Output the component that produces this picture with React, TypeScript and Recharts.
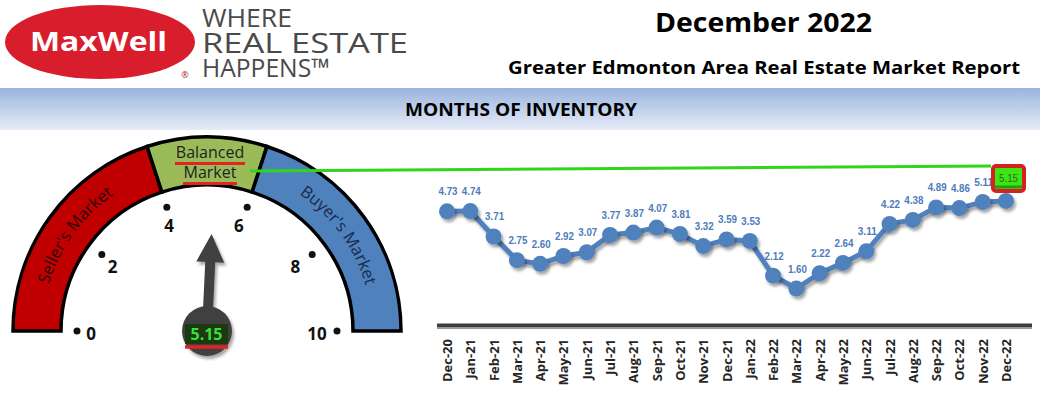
import React from 'react';
import {
  LineChart, Line, XAxis, YAxis, LabelList, ReferenceLine,
  PieChart, Pie, Cell, Customized,
} from 'recharts';

// ---------- data ----------
const months = [
  'Dec-20', 'Jan-21', 'Feb-21', 'Mar-21', 'Apr-21', 'May-21', 'Jun-21', 'Jul-21', 'Aug-21',
  'Sep-21', 'Oct-21', 'Nov-21', 'Dec-21', 'Jan-22', 'Feb-22', 'Mar-22', 'Apr-22', 'May-22',
  'Jun-22', 'Jul-22', 'Aug-22', 'Sep-22', 'Oct-22', 'Nov-22', 'Dec-22',
];
const inventory = [
  4.73, 4.74, 3.71, 2.75, 2.60, 2.92, 3.07, 3.77, 3.87, 4.07, 3.81, 3.32, 3.59,
  3.53, 2.12, 1.60, 2.22, 2.64, 3.11, 4.22, 4.38, 4.89, 4.86, 5.11, 5.15,
];
const gaugeBands = ["Seller's Market", 'Balanced Market', "Buyer's Market"];
const gaugeBandSizes = [4, 2, 4];
const gaugeBandColors = ['#C00000', '#9BBB59', '#4F81BD'];
const gaugeBandTextColors = ['#2A0505', '#222222', '#1B2A4A'];
const gaugeTicks = [0, 2, 4, 6, 8, 10];
const gaugeMax = 10;
const currentValue = 5.15;

const lineData = months.map((m, i) => ({ month: m, value: inventory[i] }));
const bandData = gaugeBands.map((name, i) => ({ name, value: gaugeBandSizes[i] }));

// ---------- gauge geometry ----------
const GCX = 207;
const GCY = 331;
const INNER = 146;
const OUTER = 194;
const RAD = Math.PI / 180;
const polar = (angleDeg: number, r: number) => [
  GCX + r * Math.cos(angleDeg * RAD),
  GCY - r * Math.sin(angleDeg * RAD),
];
const valueAngle = (v: number) => 180 - (v / gaugeMax) * 180;

const FONT = "'Open Sans', 'DejaVu Sans', sans-serif";
const LABEL_FONT = "'Liberation Sans', Arial, sans-serif";

const renderBandLabel = (props: any) => {
  const { index } = props;
  const sa = props.startAngle ?? 180;
  const ea = props.endAngle ?? 0;
  if (index === 1) {
    return (
      <g>
        <text x={GCX + 3} y={158} textAnchor="middle" fontFamily={FONT} fontSize={16} fill={gaugeBandTextColors[1]}>Balanced</text>
        <line x1={175} x2={245} y1={163.5} y2={163.5} stroke="#E02424" strokeWidth={3} />
        <text x={GCX + 3} y={178} textAnchor="middle" fontFamily={FONT} fontSize={16} fill={gaugeBandTextColors[1]}>Market</text>
        <line x1={183} x2={237} y1={183.5} y2={183.5} stroke="#E02424" strokeWidth={3} />
      </g>
    );
  }
  const a1 = Math.max(sa, ea);
  const a2 = Math.min(sa, ea);
  const r = 165;
  const [x1, y1] = polar(a1, r);
  const [x2, y2] = polar(a2, r);
  const id = `band-arc-${index}`;
  return (
    <g>
      <path id={id} d={`M ${x1} ${y1} A ${r} ${r} 0 0 1 ${x2} ${y2}`} fill="none" stroke="none" />
      <text fontFamily={FONT} fontSize={16.5} fill={gaugeBandTextColors[index]}>
        <textPath href={`#${id}`} startOffset="50%" textAnchor="middle">{gaugeBands[index]}</textPath>
      </text>
    </g>
  );
};

const GaugeDecor = () => {
  const a = valueAngle(currentValue);
  const dir = [Math.cos(a * RAD), -Math.sin(a * RAD)];
  const perp = [-dir[1], dir[0]];
  const pt = (along: number, side: number) =>
    `${GCX + dir[0] * along + perp[0] * side},${GCY + dir[1] * along + perp[1] * side}`;
  const needle = [
    pt(0, -5), pt(69, -5), pt(69, -14), pt(97, 0), pt(69, 14), pt(69, 5), pt(0, 5),
  ].join(' ');
  return (
    <g>
      {gaugeTicks.map((t) => {
        const ang = valueAngle(t);
        const [dx, dy] = polar(ang, 130);
        const [tx, ty] = polar(ang, 113);
        return (
          <g key={t}>
            <circle cx={dx} cy={dy} r={3.5} fill="#111" />
            <text x={tx - 3} y={ty + 2} textAnchor="middle" dominantBaseline="central" fontFamily={FONT} fontWeight={700} fontSize={17} fill="#111">{t}</text>
          </g>
        );
      })}
      <g filter="url(#ds)">
        <polygon points={needle} fill="#404040" />
        <circle cx={GCX} cy={GCY} r={25} fill="#404040" />
      </g>
      <rect x={GCX - 22} y={GCY - 7} width={43} height={20} fill="#1C3A0F" />
      <text x={GCX - 0.5} y={GCY + 3} textAnchor="middle" dominantBaseline="central" fontFamily={FONT} fontWeight={700} fontSize={16} fill="#3ADF3A">{currentValue.toFixed(2)}</text>
      <line x1={GCX - 22} x2={GCX + 21} y1={GCY + 16} y2={GCY + 16} stroke="#E02424" strokeWidth={3.5} />
    </g>
  );
};

const MonthTick = (props: any) => {
  const { x, y, payload } = props;
  return (
    <text
      transform={`translate(${x},${y}) rotate(-90)`}
      textAnchor="end"
      dominantBaseline="central"
      fontFamily={FONT}
      fontWeight={700}
      fontSize={13}
      fill="#262626"
    >
      {payload.value}
    </text>
  );
};

const PointLabel = (props: any) => {
  const { x, y, value, index } = props;
  const txt = Number(value).toFixed(2);
  if (index === inventory.length - 1) {
    return (
      <g>
        <rect x={x - 13} y={y - 35} width={31} height={25} rx={3} fill="#3CE614" stroke="#D42222" strokeWidth={4} />
        <rect x={x - 11} y={y - 15.5} width={27} height={3} fill="#2A9A12" />
        <text x={x + 2.5} y={y - 19} textAnchor="middle" textLength={19} lengthAdjust="spacingAndGlyphs" fontFamily={LABEL_FONT} fontWeight={400} fontSize={11.5} fill="#2A6A1A">{txt}</text>
      </g>
    );
  }
  return (
    <text x={x + 1} y={y - 16} textAnchor="middle" textLength={19} lengthAdjust="spacingAndGlyphs" fontFamily={LABEL_FONT} fontWeight={700} fontSize={11.5} fill="#4E7BBA">{txt}</text>
  );
};

export default function App() {
  return (
    <div className="inv-page" style={{ position: 'absolute', left: 0, top: 0, width: 1040, height: 393, background: '#fff', overflow: 'hidden' }}>
      <style>{`
        .inv-page .recharts-line-curve, .inv-page .recharts-line-dots { filter: url(#ds); }
      `}</style>
      {/* header */}
      <svg width={1040} height={393} style={{ position: 'absolute', left: 0, top: 0 }}>
        <defs>
          <filter id="ds" x="-30%" y="-30%" width="160%" height="160%">
            <feDropShadow dx="2" dy="3" stdDeviation="1.6" floodColor="#000" floodOpacity="0.35" />
          </filter>
          <linearGradient id="banner" x1="0" y1="0" x2="0" y2="1">
            <stop offset="0%" stopColor="#9AB4DE" />
            <stop offset="100%" stopColor="#E6ECF7" />
          </linearGradient>
        </defs>
        <ellipse cx={100} cy={42} rx={95} ry={37} fill="#D81E2C" />
        <text x={30} y={51} textLength={137} lengthAdjust="spacingAndGlyphs" fontFamily={FONT} fontWeight={700} fontSize={27} fill="#fff">MaxWell</text>
        <text x={185} y={78} textAnchor="middle" fontFamily={FONT} fontSize={9} fill="#B02030">®</text>
        <text x={202} y={27} textLength={90} lengthAdjust="spacingAndGlyphs" fontFamily={FONT} fontSize={26} fill="#4A4A4A">WHERE</text>
        <text x={202} y={53} textLength={206} lengthAdjust="spacingAndGlyphs" fontFamily={FONT} fontSize={26.5} fill="#4A4A4A">REAL ESTATE</text>
        <text x={202} y={77} textLength={128} lengthAdjust="spacingAndGlyphs" fontFamily={FONT} fontSize={26} fill="#4A4A4A">HAPPENS™</text>
        <text x={655} y={32} textLength={217} lengthAdjust="spacingAndGlyphs" fontFamily={FONT} fontWeight={700} fontSize={27} fill="#000">December 2022</text>
        <text x={508} y={74} textLength={512} lengthAdjust="spacingAndGlyphs" fontFamily={FONT} fontWeight={700} fontSize={18.5} fill="#000">Greater Edmonton Area Real Estate Market Report</text>
        <rect x={0} y={88} width={1040} height={42} fill="url(#banner)" />
        <text x={405} y={116} textLength={232} lengthAdjust="spacingAndGlyphs" fontFamily={FONT} fontWeight={700} fontSize={18.5} fill="#000">MONTHS OF INVENTORY</text>
      </svg>

      {/* gauge */}
      <div style={{ position: 'absolute', left: 0, top: 0 }}>
        <PieChart width={420} height={393} margin={{ top: 0, right: 0, bottom: 0, left: 0 }}>
          <Pie
            data={bandData}
            dataKey="value"
            nameKey="name"
            cx={GCX}
            cy={GCY}
            startAngle={180}
            endAngle={0}
            innerRadius={INNER}
            outerRadius={OUTER}
            stroke="#000"
            strokeWidth={3.5}
            isAnimationActive={false}
            label={renderBandLabel}
            labelLine={false}
          >
            {bandData.map((d, i) => (
              <Cell key={d.name} fill={gaugeBandColors[i]} />
            ))}
          </Pie>
          <Customized component={GaugeDecor} />
        </PieChart>
      </div>

      {/* line chart */}
      <div style={{ position: 'absolute', left: 0, top: 0 }}>
        <LineChart width={1040} height={393} data={lineData} margin={{ top: 180, right: 8, bottom: 15, left: 437 }}>
          <XAxis
            dataKey="month"
            interval={0}
            tick={<MonthTick />}
            tickLine={false}
            tickSize={0}
            tickMargin={11}
            height={50}
            padding={{ left: 10, right: 26 }}
            axisLine={{ stroke: '#777', strokeWidth: 1.3 }}
          />
          <YAxis hide domain={[0, 6]} width={0} />
          <ReferenceLine y={0.11} stroke="#3D3D3D" strokeWidth={3.5} />
          <Line
            type="linear"
            dataKey="value"
            stroke="#4F81BD"
            strokeWidth={5}
            dot={{ r: 8, fill: '#4F81BD', stroke: 'none' }}
            activeDot={false}
            isAnimationActive={false}
          >
            <LabelList dataKey="value" content={<PointLabel />} />
          </Line>
        </LineChart>
      </div>

      {/* connector */}
      <svg width={1040} height={393} style={{ position: 'absolute', left: 0, top: 0, pointerEvents: 'none' }}>
        <line x1={250} y1={171} x2={991} y2={166} stroke="#2FD619" strokeWidth={3} />
      </svg>
    </div>
  );
}
